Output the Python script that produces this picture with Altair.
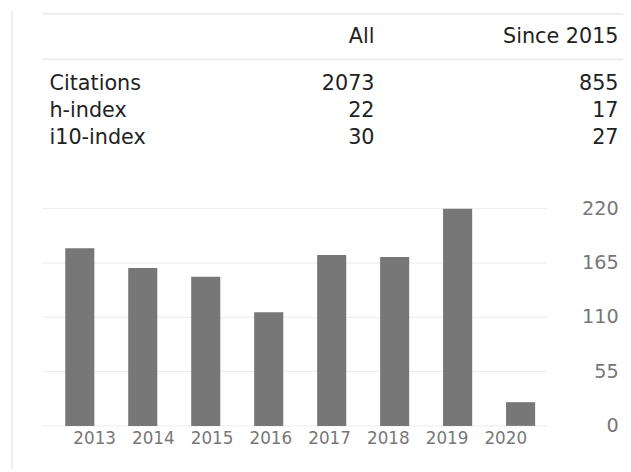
import altair as alt
import pandas as pd

# ---- data ----
years = ["2013", "2014", "2015", "2016", "2017", "2018", "2019", "2020"]
citations = [180, 160, 151, 115, 173, 171, 220, 24]
y_ticks = [0, 55, 110, 165, 220]
columns = ["All", "Since 2015"]
metrics = ["Citations", "h-index", "i10-index"]
all_vals = [2073, 22, 30]
since_vals = [855, 17, 27]

bars_df = pd.DataFrame({"year": years, "citations": citations})
ticks_df = pd.DataFrame({"tick": y_ticks})
table_df = pd.DataFrame({
    "metric": metrics * 2,
    "column": [columns[0]] * 3 + [columns[1]] * 3,
    "value": [str(v) for v in all_vals + since_vals],
})
header_df = pd.DataFrame({"column": columns})
metric_df = pd.DataFrame({"metric": metrics})
deco_df = pd.DataFrame({"k": [0]})

FONT = "DejaVu Sans"
TXT = "#222222"
GREY = "#777777"
LINE = "#eeeeee"

xband = alt.Scale(domain=years, range=[58, 534], paddingInner=0.538, paddingOuter=0)
yscale = alt.Scale(domain=[0, 220], range=[420.3, 200.3], nice=False, zero=True)
colscale = alt.Scale(type="point", domain=columns, range=[371.3, 618.5], padding=0)
rowscale = alt.Scale(type="point", domain=metrics, range=[74, 129], padding=0)

# decorative lines
left_border = alt.Chart(deco_df).mark_rule(color=LINE, strokeWidth=2).encode(
    x=alt.value(4), y=alt.value(0), y2=alt.value(464)
)
top_line = alt.Chart(deco_df).mark_rule(color=LINE, strokeWidth=2).encode(
    x=alt.value(35), x2=alt.value(623), y=alt.value(2.8)
)
head_line = alt.Chart(deco_df).mark_rule(color=LINE, strokeWidth=2).encode(
    x=alt.value(35), x2=alt.value(623), y=alt.value(48.8)
)

# table
header = alt.Chart(header_df).mark_text(
    font=FONT, fontSize=21, color=TXT, align="right", baseline="middle"
).encode(
    x=alt.X("column:N", scale=colscale, axis=None),
    y=alt.value(26),
    text="column:N",
)
metric_labels = alt.Chart(metric_df).mark_text(
    font=FONT, fontSize=21, color=TXT, align="left", baseline="middle"
).encode(
    x=alt.value(42),
    y=alt.Y("metric:N", scale=rowscale, axis=None),
    text="metric:N",
)
cells = alt.Chart(table_df).mark_text(
    font=FONT, fontSize=21, color=TXT, align="right", baseline="middle"
).encode(
    x=alt.X("column:N", scale=colscale, axis=None),
    y=alt.Y("metric:N", scale=rowscale, axis=None),
    text="value:N",
)

# chart
grid = alt.Chart(ticks_df).mark_rule(color="#ececec", strokeWidth=1).encode(
    y=alt.Y("tick:Q", scale=yscale, axis=None),
    x=alt.value(35),
    x2=alt.value(546),
)
bars = alt.Chart(bars_df).mark_bar(color=GREY).encode(
    x=alt.X("year:N", scale=xband, axis=None, sort=years),
    y=alt.Y("citations:Q", scale=yscale, axis=None),
)
xlabels = alt.Chart(bars_df).mark_text(
    font=FONT, fontSize=17, color=GREY, align="center", baseline="middle", dy=13
).encode(
    x=alt.X("year:N", scale=xband, axis=None, sort=years),
    y=alt.datum(0, scale=yscale, axis=None),
    text="year:N",
)
ylabels = alt.Chart(ticks_df).mark_text(
    font=FONT, fontSize=19.5, color=GREY, align="right", baseline="middle"
).encode(
    y=alt.Y("tick:Q", scale=yscale, axis=None),
    x=alt.value(618.7),
    text="tick:Q",
)

chart = alt.layer(
    left_border, top_line, head_line, header, metric_labels, cells,
    grid, bars, xlabels, ylabels
).resolve_scale(
    x="independent", y="independent"
).properties(
    width=623, height=464,
    autosize=alt.AutoSizeParams(type="none"),
    padding=0,
    background="white",
).configure_view(stroke=None)

chart.save("out.html", embed_options={"renderer": "svg", "actions": False})
